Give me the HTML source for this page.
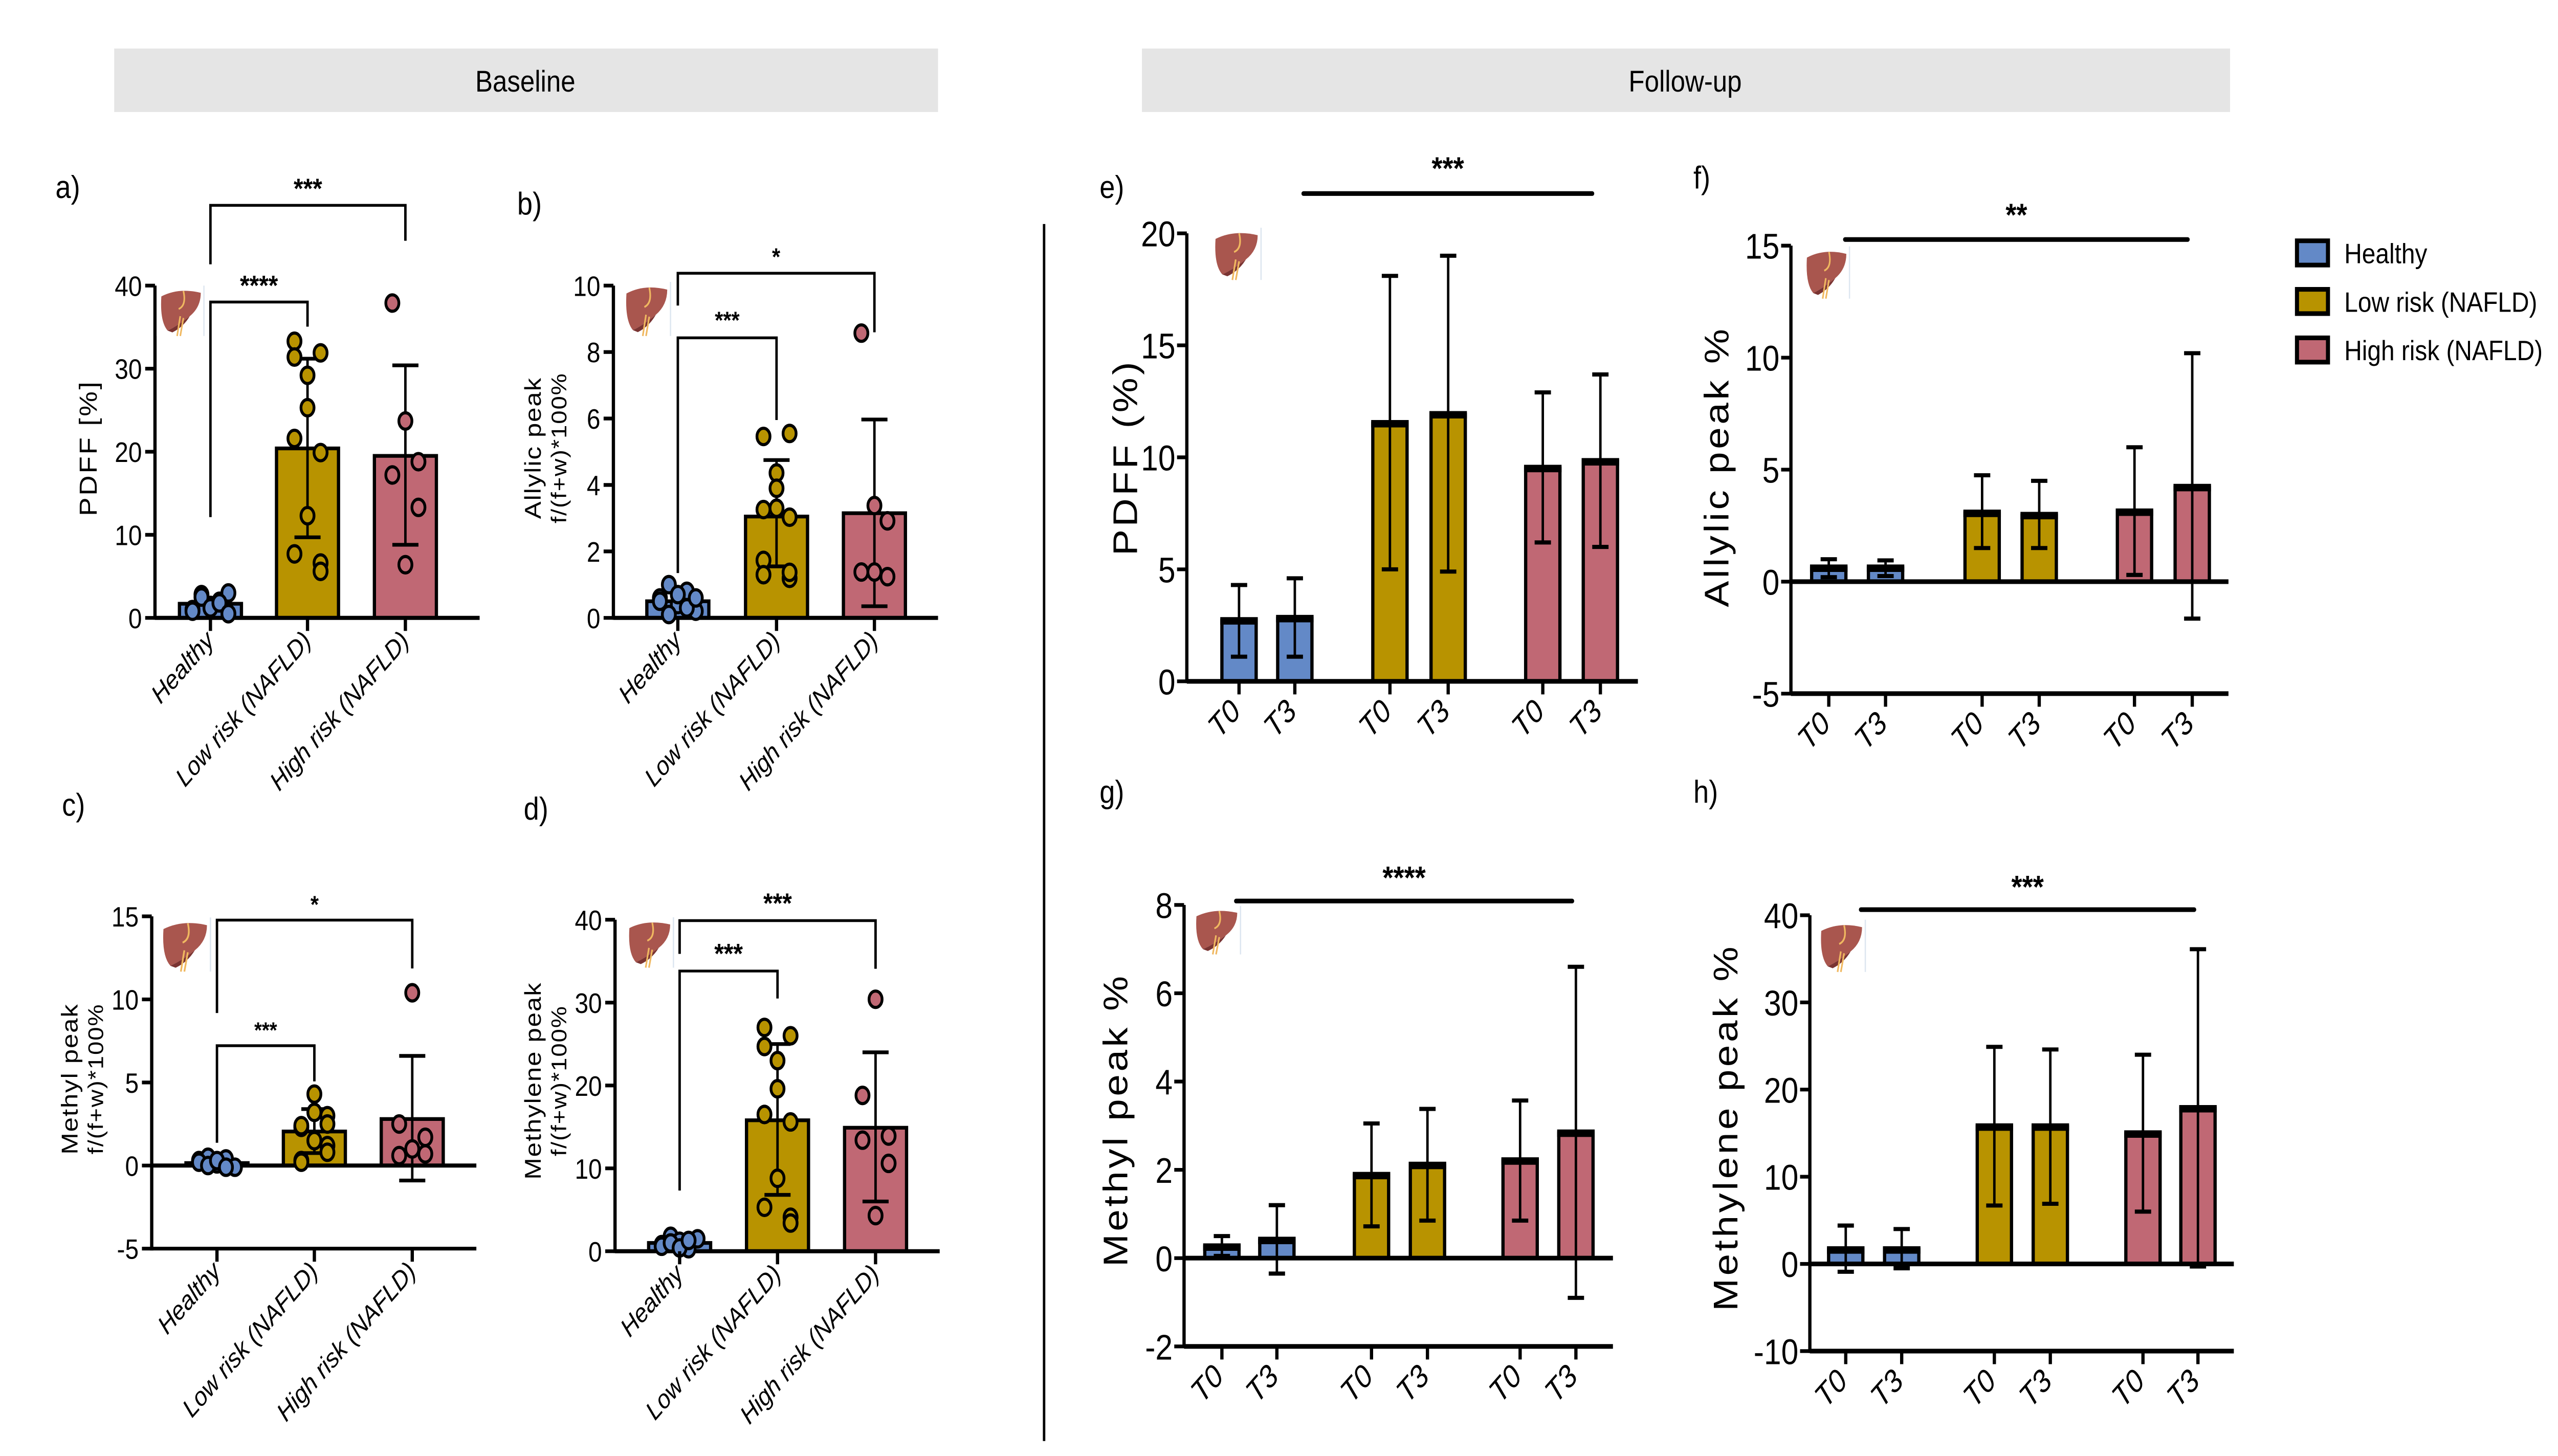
<!DOCTYPE html>
<html><head><meta charset="utf-8"><style>
html,body{margin:0;padding:0;background:#fff;overflow:hidden;width:100vw;height:100vh;}
svg{display:block;width:100vw;height:100vh;}
text{font-family:"Liberation Sans",sans-serif;fill:#000;}
.tk{font-family:"Liberation Sans Narrow","Liberation Sans",sans-serif;}
</style></head><body>
<svg id="fig" xmlns="http://www.w3.org/2000/svg" viewBox="0 0 1568 780" preserveAspectRatio="none">
<rect x="70" y="26" width="505" height="34" fill="#e5e5e5"/>
<text x="322" y="49" font-size="16" text-anchor="middle">Baseline</text>
<rect x="700" y="26" width="667" height="34" fill="#e5e5e5"/>
<text x="1033" y="49" font-size="16" text-anchor="middle">Follow-up</text>
<line x1="640" y1="120" x2="640" y2="772" stroke="#000" stroke-width="1.5"/>
<g>
<rect x="1408" y="129" width="19" height="13" fill="#6389c7" stroke="#000" stroke-width="2.5"/>
<text x="1437" y="141" font-size="15">Healthy</text>
<rect x="1408" y="155" width="19" height="13" fill="#b89300" stroke="#000" stroke-width="2.5"/>
<text x="1437" y="167" font-size="15">Low risk (NAFLD)</text>
<rect x="1408" y="181" width="19" height="13" fill="#c06874" stroke="#000" stroke-width="2.5"/>
<text x="1437" y="193" font-size="15">High risk (NAFLD)</text>
</g>
</svg>
<script>
// ---------- data ----------
const groupNames = ["Healthy", "Low risk (NAFLD)", "High risk (NAFLD)"];
const timeLabels = ["T0", "T3"];
// Panel a: PDFF
const aTicks = [0, 10, 20, 30, 40];
const aMeans = [1.7, 20.4, 19.5];
const aLo = [null, 9.7, 8.8];
const aHi = [null, 31.2, 30.4];
const aHealthy = [1.0, 2.8, 1.5, 2.0, 3.0, 0.8, 2.5, 1.2, 1.8, 0.5];
const aLow = [33.3, 31.9, 29.2, 31.4, 19.9, 25.3, 21.6, 6.6, 12.3, 7.7, 5.6];
const aHigh = [37.9, 18.8, 23.7, 17.2, 13.3, 6.4];
// Panel b: allylic
const bTicks = [0, 2, 4, 6, 8, 10];
const bMeans = [0.5, 3.05, 3.15];
const bLo = [null, 1.55, 0.35];
const bHi = [null, 4.75, 5.97];
const bHealthy = [0.6, 1.0, 0.4, 0.8, 0.2, 0.5, 0.1, 0.7, 0.3, 0.6];
const bLow = [5.46, 5.55, 4.36, 3.26, 3.03, 3.9, 1.73, 1.19, 3.3, 1.3, 1.37];
const bHigh = [8.57, 1.24, 3.38, 1.38, 2.92, 1.38];
// Panel c: methyl
const cTicks = [-5, 0, 5, 10, 15];
const cMeans = [0.15, 2.05, 2.8];
const cLo = [null, 0.75, -0.9];
const cHi = [null, 3.4, 6.6];
const cHealthy = [0.3, 0.5, 0.1, 0.4, -0.1, 0.2, 0.0, 0.3, -0.1];
const cLow = [2.3, 3.0, 4.3, 2.4, 2.5, 3.2, 0.3, 1.2, 1.5, 0.2, 0.8];
const cHigh = [2.5, 0.7, 10.4, 0.6, 1.7, 1.0];
// Panel d: methylene
const dTicks = [0, 10, 20, 30, 40];
const dMeans = [1.0, 15.8, 14.9];
const dLo = [null, 6.8, 6.0];
const dHi = [null, 25.0, 24.0];
const dHealthy = [0.8, 1.8, 1.2, 0.3, 1.5, 0.6, 1.0, 0.4, 1.3];
const dLow = [27.0, 26.0, 23.0, 24.7, 15.6, 19.6, 16.5, 4.1, 8.8, 5.3, 3.4];
const dHigh = [13.4, 13.9, 30.4, 18.8, 10.6, 4.3];
// Follow-up panels (order: healthy T0,T3, low T0,T3, high T0,T3)
const eTicks = [0, 5, 10, 15, 20];
const eMeans = [2.7, 2.8, 11.5, 11.9, 9.5, 9.8];
const eLo = [1.1, 1.1, 5.0, 4.9, 6.2, 6.0];
const eHi = [4.3, 4.6, 18.1, 19.0, 12.9, 13.7];
const fTicks = [-5, 0, 5, 10, 15];
const fMeans = [0.6, 0.6, 3.05, 2.95, 3.1, 4.2];
const fLo = [0.2, 0.25, 1.5, 1.5, 0.3, -1.65];
const fHi = [1.0, 0.95, 4.75, 4.5, 6.0, 10.2];
const gTicks = [-2, 0, 2, 4, 6, 8];
const gMeans = [0.25, 0.4, 1.87, 2.1, 2.2, 2.83];
const gLo = [0.05, -0.35, 0.72, 0.85, 0.85, -0.9];
const gHi = [0.5, 1.2, 3.05, 3.38, 3.57, 6.6];
const hTicks = [-10, 0, 10, 20, 30, 40];
const hMeans = [1.6, 1.6, 15.7, 15.7, 14.9, 17.8];
const hLo = [-0.9, -0.5, 6.7, 6.9, 6.0, -0.3];
const hHi = [4.4, 4.0, 24.9, 24.6, 24.0, 36.1];

// ---------- drawing ----------
const NS = "http://www.w3.org/2000/svg";
const svg = document.getElementById("fig");
const COLORS = ["#6389c7", "#b89300", "#c06874"];
function mk(tag, parent, attrs) {
  const e = document.createElementNS(NS, tag);
  for (const k in attrs) e.setAttribute(k, attrs[k]);
  parent.appendChild(e);
  return e;
}
function line(parent, x1, y1, x2, y2, w) {
  return mk("line", parent, {x1, y1, x2, y2, stroke: "#000", "stroke-width": w, "stroke-linecap": "butt"});
}
function liver(parent, x, y, w, h) {
  const g = mk("g", parent, {transform: `translate(${x},${y}) scale(${w/30},${h/28})`});
  
  
  mk("rect", g, {x: 0, y: 0, width: 30, height: 28, fill: "#fff"});
  mk("line", g, {x1: 30, y1: 0, x2: 30, y2: 28, stroke: "#dde6f0", "stroke-width": 0.8});
  mk("path", g, {d: "M3,6 Q14,1 28,4 Q28,12 21,17 Q14,22 7,25 Q2,20 3,6Z", fill: "#a9564e"});
  mk("path", g, {d: "M7,25 Q14,22 21,17 Q17,23 10,26Z", fill: "#7a3432"});
  mk("path", g, {d: "M17,3 Q19,11 14,13 M15,17 L13,28 M17,18 L15,28", stroke: "#f0b860", "stroke-width": 1, fill: "none"});
}
function yTitle(parent, x, y, lines, size, spacing) {
  lines.forEach((t, i) => {
    const tx = x + i * (size + 2);
    const e = mk("text", parent, {x: tx, y: y, "font-size": i === 0 ? size : size - 1, "text-anchor": "middle", "dominant-baseline": "central", "letter-spacing": spacing, transform: `rotate(-90 ${tx} ${y})`});
    
    
    e.textContent = t;
  });
}
function panelLetter(x, y, t) {
  const e = mk("text", svg, {x, y, "font-size": 17});
  
  
  e.textContent = t;
}

function baselinePanel(cfg) {
  const g = mk("g", svg, {});
  
  
  const yv = v => cfg.y0 - v * cfg.k;
  const tmin = cfg.ticks[0], tmax = cfg.ticks[cfg.ticks.length - 1];
  const xEnd = cfg.ax + 199;
  line(g, cfg.ax, yv(tmin) + 1, cfg.ax, yv(tmax), 2);
  cfg.ticks.forEach(t => {
    line(g, cfg.ax - 6, yv(t), cfg.ax, yv(t), 2);
    const e = mk("text", g, {class: "tk", x: cfg.ax - 8, y: yv(t) + 5.5, "font-size": 15, "text-anchor": "end"});
    
    
    e.textContent = t;
  });
  const bottom = yv(tmin);
  cfg.means.forEach((m, i) => {
    const cx = cfg.cats[i];
    const r = mk("rect", g, {x: cx - 19, y: Math.min(yv(m), yv(0)), width: 38, height: Math.abs(yv(m) - yv(0)), fill: COLORS[i], stroke: "#000", "stroke-width": 2});
    
    
  });
  line(g, cfg.ax, yv(0), xEnd, yv(0), 2.2);
  if (tmin < 0) line(g, cfg.ax, bottom, xEnd, bottom, 2);
  cfg.means.forEach((m, i) => {
    if (cfg.lo[i] === null) return;
    const cx = cfg.cats[i];
    const eg = mk("g", g, {});
    
    
    line(eg, cx, yv(cfg.lo[i]), cx, yv(cfg.hi[i]), 1.5);
    line(eg, cx - 8, yv(cfg.lo[i]), cx + 8, yv(cfg.lo[i]), 2);
    line(eg, cx - 8, yv(cfg.hi[i]), cx + 8, yv(cfg.hi[i]), 2);
  });
  const jit = [-8, 8, 0];
  cfg.pts.forEach((arr, i) => {
    arr.forEach((v, j) => {
      const off = i === 0 ? (j % 5 - 2) * 5.5 : jit[j % 3];
      const c = mk("ellipse", g, {cx: cfg.cats[i] + off, cy: yv(v), rx: 4, ry: 4.4, fill: COLORS[i], stroke: "#000", "stroke-width": 1.7});
      
      
    });
  });
  cfg.cats.forEach((cx, i) => {
    line(g, cx, bottom, cx, bottom + 7, 2);
    const lx = cx + 3, ly = bottom + 13;
    const e = mk("text", g, {x: lx, y: ly, "font-size": 14, "font-style": "italic", "text-anchor": "end", transform: `rotate(-45 ${lx} ${ly})`});
    
    
    e.textContent = groupNames[i];
  });
  cfg.brackets.forEach(b => {
    const bg = mk("g", g, {});
    
    
    const x1 = cfg.cats[b.i1], x2 = cfg.cats[b.i2];
    mk("polyline", bg, {points: `${x1},${b.l1} ${x1},${b.y} ${x2},${b.y} ${x2},${b.l2}`, fill: "none", stroke: "#000", "stroke-width": 1.5});
    const t = mk("text", bg, {x: (x1 + x2) / 2, y: b.ty, "font-size": b.fs || 15, "font-weight": "bold", "text-anchor": "middle"});
    t.textContent = b.text;
  });
  liver(g, cfg.icon[0], cfg.icon[1], cfg.icon[2], cfg.icon[3]);
  yTitle(g, cfg.title[0], cfg.title[1], cfg.title[2], cfg.title[3], cfg.title[4]);
}

function followPanel(cfg) {
  const g = mk("g", svg, {});
  
  
  const yv = v => cfg.y0 - v * cfg.k;
  const tmin = cfg.ticks[0], tmax = cfg.ticks[cfg.ticks.length - 1];
  line(g, cfg.ax, yv(tmin) + 1, cfg.ax, yv(tmax), 2);
  cfg.ticks.forEach(t => {
    line(g, cfg.ax - 6, yv(t), cfg.ax, yv(t), 2);
    const e = mk("text", g, {class: "tk", x: cfg.ax - 7, y: yv(t) + 7, "font-size": 19, "text-anchor": "end"});
    
    
    e.textContent = t;
  });
  const bottom = yv(tmin);
  cfg.means.forEach((m, i) => {
    const cx = cfg.cx[i];
    const col = COLORS[Math.floor(i / 2)];
    const r = mk("rect", g, {x: cx - 10.5, y: Math.min(yv(m), yv(0)), width: 21, height: Math.abs(yv(m) - yv(0)), fill: col, stroke: "#000", "stroke-width": 2});
    
    
    line(g, cx - 11.5, yv(m), cx + 11.5, yv(m), 4);
  });
  line(g, cfg.ax, yv(0), cfg.xEnd, yv(0), 2.5);
  if (tmin < 0) line(g, cfg.ax, bottom, cfg.xEnd, bottom, 2.5);
  cfg.means.forEach((m, i) => {
    const cx = cfg.cx[i];
    const eg = mk("g", g, {});
    
    
    line(eg, cx, yv(cfg.lo[i]), cx, yv(cfg.hi[i]), 1.5);
    line(eg, cx - 5, yv(cfg.lo[i]), cx + 5, yv(cfg.lo[i]), 2.2);
    line(eg, cx - 5, yv(cfg.hi[i]), cx + 5, yv(cfg.hi[i]), 2.2);
  });
  cfg.cx.forEach((cx, i) => {
    line(g, cx, bottom, cx, bottom + 7, 2);
    const lx = cx + 2, ly = bottom + 17;
    const e = mk("text", g, {x: lx, y: ly, "font-size": 17, "font-style": "italic", "text-anchor": "end", transform: `rotate(-45 ${lx} ${ly})`});
    
    
    e.textContent = timeLabels[i % 2];
  });
  const sg = mk("g", g, {});
  
  
  mk("line", sg, {x1: cfg.sig[0], y1: cfg.sig[2], x2: cfg.sig[1], y2: cfg.sig[2], stroke: "#000", "stroke-width": 2.5, "stroke-linecap": "round"});
  const t = mk("text", sg, {x: (cfg.sig[0] + cfg.sig[1]) / 2, y: cfg.sig[3], "font-size": 17, "font-weight": "bold", "text-anchor": "middle"});
  t.textContent = cfg.sig[4];
  liver(g, cfg.icon[0], cfg.icon[1], cfg.icon[2], cfg.icon[3]);
  yTitle(g, cfg.title[0], cfg.title[1], [cfg.title[2]], 21, 1.5);
}

baselinePanel({name: "panel-a-pdff", ax: 95, y0: 331, k: 4.45, ticks: aTicks, cats: [129, 188.5, 248.5],
  means: aMeans, lo: aLo, hi: aHi, pts: [aHealthy, aLow, aHigh], icon: [96, 153, 29, 27],
  title: [54, 240, ["PDFF [%]"], 15, 1],
  brackets: [{i1: 0, i2: 2, y: 110, l1: 141.6, l2: 129, ty: 106, text: "***"},
             {i1: 0, i2: 1, y: 161.8, l1: 277, l2: 175, ty: 158, text: "****"}]});
baselinePanel({name: "panel-b-allylic", ax: 376, y0: 331, k: 17.8, ticks: bTicks, cats: [415.5, 476, 536],
  means: bMeans, lo: bLo, hi: bHi, pts: [bHealthy, bLow, bHigh], icon: [381, 151, 30, 29],
  title: [327, 240, ["Allylic peak", "f/(f+w)*100%"], 14, 0.5],
  brackets: [{i1: 0, i2: 2, y: 146.4, l1: 163.7, l2: 178, ty: 142, text: "*", fs: 13},
             {i1: 0, i2: 1, y: 181, l1: 307, l2: 225, ty: 176, text: "***", fs: 13}]});
baselinePanel({name: "panel-c-methyl", ax: 93, y0: 624.4, k: 8.9, ticks: cTicks, cats: [133, 192.7, 252.7],
  means: cMeans, lo: cLo, hi: cHi, pts: [cHealthy, cLow, cHigh], icon: [97, 491.5, 32, 29],
  title: [43, 578, ["Methyl peak", "f/(f+w)*100%"], 14, 0.5],
  brackets: [{i1: 0, i2: 2, y: 492.9, l1: 542.7, l2: 518.8, ty: 489, text: "*", fs: 13},
             {i1: 0, i2: 1, y: 560.2, l1: 612.2, l2: 579.3, ty: 556, text: "***", fs: 12}]});
baselinePanel({name: "panel-d-methylene", ax: 377, y0: 670.3, k: 4.44, ticks: dTicks, cats: [416.6, 476.6, 536.7],
  means: dMeans, lo: dLo, hi: dHi, pts: [dHealthy, dLow, dHigh], icon: [382.8, 491.4, 30, 27],
  title: [327, 579, ["Methylene peak", "f/(f+w)*100%"], 14, 0.5],
  brackets: [{i1: 0, i2: 2, y: 493.2, l1: 511, l2: 519, ty: 489, text: "***"},
             {i1: 0, i2: 1, y: 520.2, l1: 637.8, l2: 534.9, ty: 516, text: "***"}]});

followPanel({name: "panel-e-pdff", ax: 727.5, y0: 365, k: 12.0, ticks: eTicks, xEnd: 1004,
  cx: [759.5, 793.7, 852, 887.7, 945.7, 981], means: eMeans, lo: eLo, hi: eHi,
  sig: [799, 976, 103.7, 96, "***"], icon: [742, 122, 31, 28], title: [690, 245, "PDFF (%)"]});
followPanel({name: "panel-f-allylic", ax: 1097.8, y0: 311.6, k: 12.0, ticks: fTicks, xEnd: 1366,
  cx: [1121, 1155.8, 1215, 1250, 1308.4, 1343.8], means: fMeans, lo: fLo, hi: fHi,
  sig: [1131, 1341, 128.3, 121, "**"], icon: [1104.7, 132, 29, 28], title: [1052.5, 250, "Allylic peak %"]});
followPanel({name: "panel-g-methyl", ax: 725.8, y0: 674, k: 23.65, ticks: gTicks, xEnd: 988.7,
  cx: [749, 782.7, 840.7, 875, 931.8, 966], means: gMeans, lo: gLo, hi: gHi,
  sig: [757.7, 963.7, 482.7, 476, "****"], icon: [730.4, 485.3, 30, 26], title: [684, 600, "Methyl peak %"]});
followPanel({name: "panel-h-methylene", ax: 1109.4, y0: 677.1, k: 4.67, ticks: hTicks, xEnd: 1369.3,
  cx: [1131.4, 1165.7, 1222.5, 1256.8, 1313.6, 1347.3], means: hMeans, lo: hLo, hi: hHi,
  sig: [1140.7, 1345, 487.3, 481, "***"], icon: [1113.4, 492.7, 30, 28], title: [1058, 604, "Methylene peak %"]});

panelLetter(34, 106, "a)");
panelLetter(317, 115, "b)");
panelLetter(38, 437, "c)");
panelLetter(321, 439, "d)");
panelLetter(674, 106, "e)");
panelLetter(1038, 101, "f)");
panelLetter(674, 430, "g)");
panelLetter(1038, 430, "h)");
</script>
</body></html>
